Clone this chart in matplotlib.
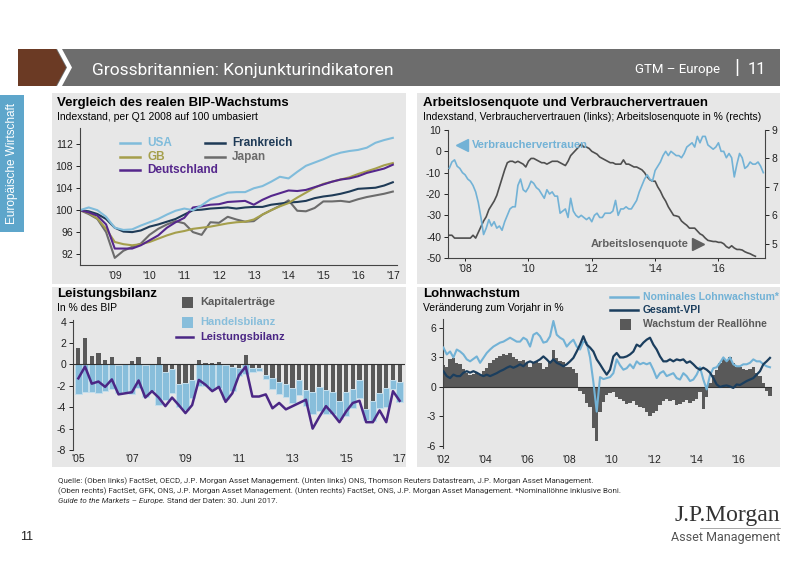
import numpy as np
import matplotlib
matplotlib.use("Agg")
import matplotlib.pyplot as plt
from matplotlib.patches import Rectangle, Polygon
from matplotlib.lines import Line2D

plt.rcParams['font.family'] = ['Liberation Sans', 'DejaVu Sans']
plt.rcParams['axes.unicode_minus'] = False
NARROW = ['Liberation Sans Narrow', 'Roboto', 'DejaVu Sans']

# ---------------- data ----------------
# BIP, quartalsweise Q1 2008 .. Q1 2017 (Q1 2008 = 100)
usa = [100.0, 100.5, 100.0, 98.8, 96.8, 96.4, 96.5, 97.2, 97.8, 98.4,
       99.2, 99.9, 100.3, 100.0, 100.9, 102.0, 102.6, 103.2, 103.3, 103.3,
       104.0, 104.4, 105.2, 106.1, 105.8, 107.0, 108.1, 108.7, 109.3, 110.0,
       110.5, 110.8, 111.0, 111.4, 112.3, 112.8, 113.2]
gb = [100.0, 99.5, 98.5, 96.6, 94.2, 93.8, 93.6, 93.8, 94.2, 94.8,
      95.4, 95.9, 96.2, 96.6, 96.8, 97.0, 97.3, 97.6, 97.8, 97.9,
      98.3, 99.2, 100.0, 100.7, 101.3, 102.3, 103.2, 104.1, 104.8, 105.2,
      105.6, 106.0, 106.6, 107.1, 107.6, 108.2, 108.6]
deutschland = [100.0, 99.6, 99.0, 97.4, 93.0, 93.0, 93.0, 93.6, 94.5, 95.4,
               96.8, 97.8, 98.6, 100.5, 100.7, 101.0, 101.1, 101.5, 101.6, 101.7,
               101.0, 101.9, 102.6, 103.1, 103.6, 103.5, 103.7, 104.2, 104.7, 105.2,
               105.6, 105.8, 106.2, 106.8, 107.2, 107.6, 108.3]
frankreich = [100.0, 99.8, 99.3, 98.4, 96.8, 96.1, 96.0, 96.3, 97.0, 97.4,
              97.9, 98.4, 99.2, 100.0, 100.1, 100.3, 100.4, 100.5, 100.3, 100.5,
              100.6, 100.6, 101.0, 101.2, 101.4, 101.5, 101.7, 102.2, 102.5, 102.7,
              103.0, 103.4, 103.9, 104.0, 104.1, 104.5, 105.1]
japan = [100.0, 99.3, 98.4, 96.0, 91.3, 92.6, 93.3, 93.9, 95.5, 96.6,
         97.4, 98.0, 97.6, 96.0, 95.5, 97.8, 97.7, 98.8, 98.3, 97.9,
         98.0, 99.2, 100.0, 100.8, 101.8, 99.9, 99.8, 100.4, 101.6, 101.6,
         101.7, 101.5, 102.0, 102.4, 102.7, 103.0, 103.4]

# Verbrauchervertrauen (monatlich ab Juli 2007), Arbeitslosenquote in %
verbrauchervertrauen = [
    -8, -5, -4, -7, -8, -10,
    -11, -13, -14, -16, -19, -24, -31, -39, -36, -32, -35, -33,
    -36, -35, -37, -33, -30, -27, -26, -26, -16, -13, -18, -19,
    -17, -14, -15, -17, -18, -20, -22, -18, -20, -19, -21, -21,
    -29, -28, -27, -31, -22, -28, -30, -31, -30, -31, -32, -31,
    -33, -30, -29, -31, -31, -29, -29, -29, -28, -23, -30, -27,
    -27, -26, -27, -27, -25, -23, -19, -16, -13, -11, -13, -14,
    -9, -7, -5, -2, 0, -2, 0, -1, -2, -2, -3, -1,
    2, 3, 4, 2, 7, 4, 7, 7, 3, 2, 1, 2,
    4, 0, 0, -3, -1, -3, -12, -6, -1, -3, -8, -7,
    -5, -6, -6, -5, -7, -10]
arbeitslosenquote = [
    5.3, 5.3, 5.2, 5.2, 5.2, 5.2,
    5.2, 5.2, 5.2, 5.3, 5.2, 5.4, 5.6, 5.8, 5.95, 6.2, 6.35, 6.5,
    6.7, 7.0, 7.3, 7.6, 7.85, 7.9, 7.9, 7.85, 7.9, 7.85, 7.8, 7.7,
    7.9, 8.0, 8.0, 7.95, 7.9, 7.85, 7.85, 7.8, 7.85, 7.9, 7.9, 7.9,
    7.85, 7.8, 7.75, 7.9, 8.1, 8.2, 8.3, 8.4, 8.5, 8.4, 8.4, 8.35,
    8.25, 8.2, 8.15, 8.05, 8.0, 7.95, 7.9, 7.85, 7.85, 7.8, 7.8, 7.8,
    7.95, 7.8, 7.8, 7.75, 7.7, 7.7, 7.65, 7.6, 7.5, 7.35, 7.25, 7.2,
    7.2, 7.0, 6.85, 6.65, 6.5, 6.3, 6.15, 6.0, 5.98, 5.95, 5.8, 5.72,
    5.65, 5.55, 5.55, 5.55, 5.45, 5.35, 5.3, 5.2, 5.12, 5.1, 5.08, 5.08,
    5.05, 5.05, 5.0, 4.9, 4.85, 4.93, 4.85, 4.8, 4.8, 4.78, 4.72, 4.68,
    4.65, 4.6, 4.56]

# Leistungsbilanz, quartalsweise Q1 2005 .. Q1 2017, in % des BIP
kapitalertraege = [1.5, 2.45, 0.75, 1.05, 0.45, 0.65, -0.1, 0.0, 0.3, 0.65,
                   -0.1, 0.0, 0.65, -0.7, -0.4, -1.8, -1.75, -1.45, 0.45, 0.1,
                   0.15, 0.25, -0.1, -0.2, -0.3, 0.85, -0.3, -0.3, -1.0, -1.3,
                   -1.6, -1.8, -2.2, -1.5, -2.4, -2.6, -2.1, -2.4, -2.6, -3.4,
                   -2.6, -2.3, -1.5, -4.2, -3.4, -2.7, -2.2, -1.5, -1.6]
handelsbilanz = [-2.75, -2.6, -2.6, -2.7, -2.5, -2.3, -2.6, -2.6, -2.8, -2.2,
                 -2.9, -2.5, -3.8, -2.6, -2.3, -2.2, -2.5, -1.7, -2.0, -2.0,
                 -2.4, -2.2, -3.1, -2.3, -0.8, -0.9, -0.4, -0.3, -0.4, -1.0,
                 -1.2, -1.2, -1.4, -1.4, -1.5, -2.0, -2.3, -2.2, -2.0, -1.7,
                 -2.2, -1.8, -1.6, -1.0, -1.9, -1.4, -1.8, -0.8, -1.9]
leistungsbilanz = [-1.3, -0.2, -1.8, -1.6, -2.1, -1.4, -2.8, -2.7, -2.6, -1.5,
                   -3.1, -2.5, -3.1, -3.9, -3.1, -3.8, -4.55, -3.8, -1.45, -1.9,
                   -2.5, -2.1, -3.5, -2.7, -1.0, -0.2, -3.0, -3.0, -2.8, -4.1,
                   -3.6, -4.2, -3.9, -3.6, -3.3, -6.0, -4.9, -3.9, -4.6, -5.4,
                   -4.4, -3.6, -3.4, -5.4, -5.4, -4.3, -5.4, -2.5, -3.4]

# Lohnwachstum ab 2002 (ca. alle 2 Monate), Veraenderung zum Vorjahr in %
nominallohn = [4.0, 3.3, 3.6, 3.0, 3.8, 3.6, 3.3, 2.8, 2.6, 2.85,
               3.1, 2.45, 2.95, 3.45, 3.8, 4.1, 4.3, 4.5, 4.6, 4.8,
               5.0, 4.8, 4.6, 4.6, 5.0, 4.8, 4.1, 5.3, 5.5, 5.15,
               4.5, 4.6, 5.15, 6.7, 5.3, 5.0, 4.8, 4.1, 4.5, 4.8,
               4.1, 3.8, 4.6, 4.5, 3.0, 0.5, -2.5, 1.0, 0.8, 0.9,
               1.0, 1.4, 2.8, 2.2, 1.75, 1.9, 2.3, 1.9, 2.6, 2.3,
               2.45, 2.3, 2.45, 1.75, 0.9, 1.4, 1.6, 1.1, 1.25, 1.4,
               0.9, 0.75, 1.4, 1.1, 0.6, 0.75, 1.25, 2.0, 0.75, -0.25,
               1.2, 1.9, 2.0, 2.45, 3.0, 2.6, 3.0, 2.3, 2.1, 2.1,
               2.3, 2.3, 2.45, 2.8, 2.6, 2.6, 2.3, 2.1, 2.0]
vpi = [1.6, 1.1, 0.9, 1.25, 1.1, 1.1, 1.45, 1.6, 1.45, 1.6,
       1.45, 1.25, 1.1, 1.25, 1.1, 1.25, 1.4, 1.6, 1.75, 1.95,
       2.1, 1.95, 2.1, 2.3, 2.1, 2.45, 2.6, 2.45, 2.6, 2.8,
       3.1, 2.8, 2.45, 2.8, 2.45, 2.3, 2.1, 2.3, 2.6, 2.95,
       3.6, 4.3, 5.15, 4.3, 4.0, 3.6, 2.8, 2.3, 1.75, 1.25,
       1.75, 3.1, 3.45, 3.0, 3.0, 3.1, 3.3, 3.6, 4.3, 4.1,
       4.5, 4.8, 5.0, 4.3, 3.8, 3.1, 2.6, 2.6, 2.8, 2.6,
       2.8, 2.7, 2.8, 2.45, 2.6, 2.3, 1.95, 1.75, 1.95, 1.75,
       1.45, 0.9, 0.25, 0.0, 0.1, 0.15, 0.05, -0.1, 0.25, 0.2,
       0.4, 0.6, 0.75, 0.9, 1.25, 1.6, 2.3, 2.6, 2.95]
reallohn = [2.2, 2.0, 2.8, 2.9, 2.4, 2.3, 1.8, 1.4, 1.2, 1.3,
            1.5, 1.2, 1.6, 1.9, 2.4, 2.7, 2.9, 3.1, 3.3, 3.2,
            3.4, 3.0, 2.8, 2.6, 2.7, 2.4, 2.0, 2.4, 2.6, 2.4,
            1.8, 2.0, 2.6, 3.8, 2.9, 2.6, 2.5, 2.0, 2.0, 1.8,
            1.4, -0.4, -0.7, -1.6, -2.0, -4.2, -5.5, -2.5, -1.5, -0.8,
            -0.6, -0.5, -1.0, -1.2, -1.4, -1.7, -1.6, -1.4, -1.8, -2.0,
            -2.1, -2.5, -3.0, -2.6, -2.4, -1.8, -1.4, -1.2, -1.4, -1.3,
            -1.8, -1.7, -1.5, -1.3, -1.6, -1.4, -1.2, -0.5, -2.2, -1.0,
            0.4, 1.2, 1.7, 2.4, 2.9, 2.6, 3.0, 2.4, 2.0, 2.0,
            1.8, 1.7, 1.8, 2.0, 1.4, 1.1, 0.4, -0.4, -0.9]

# ---------------- colours ----------------
C_USA = '#80bcdb'
C_GB = '#a59f4c'
C_DE = '#55278c'
C_FR = '#1f3b57'
C_JP = '#6c6c6c'
C_LBLUE = '#72b2d6'
C_GRAY = '#595959'
C_PURPLE = '#4b2785'
C_NAVY = '#1b3e5e'
C_BAR_BLUE = '#88bedb'
PANEL_BG = '#e7e7e7'
AX_COL = '#444444'

W, H = 800, 565


def box(l, t, r, b):
    return [l / W, 1 - b / H, (r - l) / W, (b - t) / H]


def rect(fig, l, t, r, b, color):
    fig.add_artist(Rectangle((l / W, 1 - b / H), (r - l) / W, (b - t) / H,
                             transform=fig.transFigure, color=color, lw=0, zorder=-5))


def ftext(fig, x, y, s, **kw):
    return fig.text(x / W, 1 - y / H, s, **kw)


def style_axes(ax, left=True, bottom=True, right=False):
    ax.set_facecolor('none')
    for side, vis in (('left', left), ('bottom', bottom), ('right', right), ('top', False)):
        ax.spines[side].set_visible(vis)
        ax.spines[side].set_color(AX_COL)
        ax.spines[side].set_linewidth(0.8)
    ax.tick_params(labelsize=7.5, colors='#222222', length=3, width=0.7, pad=2)


fig = plt.figure(figsize=(8, 5.65), dpi=100)

# ---------------- header ----------------
rect(fig, 18, 49, 780, 86, '#6d6d6d')
fig.add_artist(Polygon([(18 / W, 1 - 49 / H), (56 / W, 1 - 49 / H), (66 / W, 1 - 67.5 / H),
                        (56 / W, 1 - 86 / H), (18 / W, 1 - 86 / H)],
                       closed=True, transform=fig.transFigure, color='#6b3a24', lw=0, zorder=-4))
fig.add_artist(Polygon([(57 / W, 1 - 49 / H), (62 / W, 1 - 49 / H), (72 / W, 1 - 67.5 / H),
                        (62 / W, 1 - 86 / H), (57 / W, 1 - 86 / H), (67 / W, 1 - 67.5 / H)],
                       closed=True, transform=fig.transFigure, color='white', lw=0, zorder=-4))
ftext(fig, 92, 70, 'Grossbritannien: Konjunkturindikatoren', color='white', fontsize=12.5,
      family=NARROW, va='center', ha='left')
ftext(fig, 720, 69, 'GTM – Europe', color='white', fontsize=9.5, family=NARROW, va='center', ha='right')
ftext(fig, 737, 68, '|', color='white', fontsize=15, family=NARROW, va='center', ha='center')
ftext(fig, 757, 69, '11', color='white', fontsize=12, family=NARROW, va='center', ha='center')

# left tab
rect(fig, 0, 95, 24, 232, '#5ea6cb')
ftext(fig, 12, 163, 'Europäische Wirtschaft', color='white', fontsize=8.5, rotation=90,
      va='center', ha='center')

# panel backgrounds
rect(fig, 52, 93, 406, 284, PANEL_BG)
rect(fig, 417, 93, 780, 284, PANEL_BG)
rect(fig, 52, 287, 406, 467, PANEL_BG)
rect(fig, 417, 287, 780, 467, PANEL_BG)

# panel titles
ftext(fig, 57, 103, 'Vergleich des realen BIP-Wachstums', fontsize=9.5, weight='bold', va='center')
ftext(fig, 57, 117, 'Indexstand, per Q1 2008 auf 100 umbasiert', fontsize=7.5, va='center')
ftext(fig, 423, 103, 'Arbeitslosenquote und Verbrauchervertrauen', fontsize=9.5, weight='bold', va='center')
ftext(fig, 423, 117, 'Indexstand, Verbrauchervertrauen (links); Arbeitslosenquote in % (rechts)',
      fontsize=7.5, va='center')
ftext(fig, 57, 294, 'Leistungsbilanz', fontsize=9.5, weight='bold', va='center')
ftext(fig, 57, 308, 'In % des BIP', fontsize=7.5, va='center')
ftext(fig, 423, 294, 'Lohnwachstum', fontsize=9.5, weight='bold', va='center')
ftext(fig, 423, 308, 'Veränderung zum Vorjahr in %', fontsize=7.5, va='center')

# ---------------- panel 1: BIP ----------------
ax1 = fig.add_axes(box(80, 128, 397, 265))
style_axes(ax1)
t1 = 2008 + np.arange(len(usa)) / 4
for vals, col, name in ((japan, C_JP, 'Japan'), (frankreich, C_FR, 'Frankreich'),
                        (gb, C_GB, 'GB'), (deutschland, C_DE, 'Deutschland'), (usa, C_USA, 'USA')):
    ax1.plot(t1, vals, color=col, lw=1.5, label=name)
ax1.set_xlim(2008, 2017.12)
ax1.set_ylim(90, 115)
ax1.set_yticks([92, 96, 100, 104, 108, 112])
yrs1 = list(range(2009, 2018))
ax1.set_xticks(yrs1)
ax1.set_xticklabels(["'" + str(y)[2:] for y in yrs1])
ax1.tick_params(axis='x', length=0, pad=4)

leg1 = [('USA', C_USA, 120, 143), ('GB', C_GB, 120, 157), ('Deutschland', C_DE, 120, 170),
        ('Frankreich', C_FR, 205, 143), ('Japan', C_JP, 205, 157)]
for name, col, x0, y0 in leg1:
    fig.add_artist(Line2D([x0 / W, (x0 + 20) / W], [1 - y0 / H, 1 - y0 / H], color=col, lw=1.8,
                          transform=fig.transFigure))
    ftext(fig, x0 + 27, y0, name, color=col, fontsize=8.5, weight='bold', va='center')

# ---------------- panel 2: Arbeitslosigkeit / Vertrauen ----------------
ax2 = fig.add_axes(box(448, 130, 765, 258))
style_axes(ax2)
ax2r = ax2.twinx()
style_axes(ax2r, left=False, bottom=False, right=True)
t2a = 2007.5 + np.arange(len(verbrauchervertrauen)) / 12
t2b = 2007.5 + np.arange(len(arbeitslosenquote)) / 12
ax2.plot(t2a, verbrauchervertrauen, color=C_LBLUE, lw=1.2, zorder=3)
ax2r.plot(t2b, arbeitslosenquote, color='#4f4f4f', lw=1.2)
ax2.set_zorder(ax2r.get_zorder() + 1)
ax2.set_xlim(2007.46, 2017.47)
ax2.set_ylim(-50, 10)
ax2.set_yticks(range(-50, 11, 10))
ax2r.set_ylim(4.5, 9)
ax2r.set_yticks([5, 6, 7, 8, 9])
yrs2 = [2008, 2010, 2012, 2014, 2016]
ax2.set_xticks(yrs2)
ax2.set_xticklabels(["'" + str(y)[2:] for y in yrs2])
ax2.tick_params(axis='x', length=2.5)
ax2.plot([0.045], [0.88], marker='<', ms=8, color=C_LBLUE, transform=ax2.transAxes, clip_on=False)
ax2.text(0.075, 0.88, 'Verbrauchervertrauen', color=C_LBLUE, fontsize=8, weight='bold',
         va='center', transform=ax2.transAxes)
ax2.text(0.76, 0.11, 'Arbeitslosenquote', color='#606060', fontsize=8, weight='bold',
         va='center', ha='right', transform=ax2.transAxes)
ax2.plot([0.79], [0.11], marker='>', ms=8, color='#606060', transform=ax2.transAxes, clip_on=False)

# ---------------- panel 3: Leistungsbilanz ----------------
ax3 = fig.add_axes(box(73, 319.5, 405, 450))
style_axes(ax3, bottom=False)
t3 = 2005 + np.arange(len(kapitalertraege)) / 4
kap = np.array(kapitalertraege)
ax3.bar(t3, handelsbilanz, bottom=np.minimum(kap, 0), width=0.24, color=C_BAR_BLUE,
        edgecolor='#c4deec', linewidth=0.7, zorder=2)
ax3.bar(t3, kap, width=0.16, color=C_GRAY, zorder=2)
ax3.axhline(0, color='#333333', lw=0.8, zorder=3)
ax3.plot(t3, leistungsbilanz, color=C_PURPLE, lw=1.8, zorder=4)
ax3.set_xlim(2004.8, 2017.2)
ax3.set_ylim(-8, 4.2)
ax3.set_yticks(range(-8, 5, 2))
yrs3 = list(range(2005, 2018, 2))
ax3.set_xticks(yrs3)
ax3.set_xticklabels(["'" + str(y)[2:] for y in yrs3])
ax3.tick_params(axis='x', length=0, pad=3)

fig.add_artist(Rectangle((182 / W, 1 - 308 / H), 11 / W, 11 / H, transform=fig.transFigure,
                         color=C_GRAY, lw=0))
ftext(fig, 200, 302, 'Kapitalerträge', color='#5a5a5a', fontsize=8, weight='bold', va='center')
fig.add_artist(Rectangle((182 / W, 1 - 328 / H), 11 / W, 11 / H, transform=fig.transFigure,
                         color=C_BAR_BLUE, lw=0))
ftext(fig, 200, 322, 'Handelsbilanz', color=C_BAR_BLUE, fontsize=8, weight='bold', va='center')
fig.add_artist(Line2D([176 / W, 193 / W], [1 - 337 / H, 1 - 337 / H], color=C_PURPLE, lw=1.8,
                      transform=fig.transFigure))
ftext(fig, 200, 337, 'Leistungsbilanz', color=C_PURPLE, fontsize=8, weight='bold', va='center')

# ---------------- panel 4: Lohnwachstum ----------------
ax4 = fig.add_axes(box(443, 319, 772, 448))
style_axes(ax4, bottom=False)
t4 = 2002.02 + np.arange(len(nominallohn)) * 0.158
ax4.bar(t4, reallohn, width=0.158, color=C_GRAY, lw=0, zorder=2)
ax4.axhline(0, color='#333333', lw=0.8, zorder=3)
ax4.plot(t4, nominallohn, color=C_LBLUE, lw=1.5, zorder=4)
ax4.plot(t4, vpi, color=C_NAVY, lw=1.6, zorder=5)
ax4.set_xlim(2002, 2017.6)
ax4.set_ylim(-6.2, 6.9)
ax4.set_yticks([-6, -3, 0, 3, 6])
yrs4 = list(range(2002, 2017, 2))
ax4.set_xticks(yrs4)
ax4.set_xticklabels(["'" + str(y)[2:] for y in yrs4])
ax4.tick_params(axis='x', length=0, pad=5)

fig.add_artist(Line2D([610 / W, 638 / W], [1 - 297 / H, 1 - 297 / H], color=C_LBLUE, lw=1.8,
                      transform=fig.transFigure))
ftext(fig, 643, 297, 'Nominales Lohnwachstum*', color=C_LBLUE, fontsize=7.5, weight='bold', va='center')
fig.add_artist(Line2D([610 / W, 638 / W], [1 - 310 / H, 1 - 310 / H], color=C_NAVY, lw=1.8,
                      transform=fig.transFigure))
ftext(fig, 643, 310, 'Gesamt-VPI', color=C_NAVY, fontsize=7.5, weight='bold', va='center')
fig.add_artist(Rectangle((620 / W, 1 - 330 / H), 11 / W, 11 / H, transform=fig.transFigure,
                         color=C_GRAY, lw=0))
ftext(fig, 643, 324, 'Wachstum der Reallöhne', color='#5a5a5a', fontsize=7.5, weight='bold', va='center')

# ---------------- footer ----------------
src1 = ('Quelle: (Oben links) FactSet, OECD, J.P. Morgan Asset Management. (Unten links) ONS, '
        'Thomson Reuters Datastream, J.P. Morgan Asset Management.')
src2 = ('(Oben rechts) FactSet, GFK, ONS, J.P. Morgan Asset Management. (Unten rechts) FactSet, ONS, '
        'J.P. Morgan Asset Management. *Nominallöhne inklusive Boni.')
ftext(fig, 58, 481, src1, fontsize=5.8, family=NARROW, va='center', color='#333333')
ftext(fig, 58, 491, src2, fontsize=5.8, family=NARROW, va='center', color='#333333')
t_it = ftext(fig, 58, 501, 'Guide to the Markets – Europe.', fontsize=5.8, family=NARROW,
             style='italic', va='center', color='#333333')
ax1.annotate(' Stand der Daten: 30. Juni 2017.', xy=(1, 0.5), xycoords=t_it, va='center',
             fontsize=5.8, family=NARROW, color='#333333', annotation_clip=False)

ftext(fig, 20, 537, '11', fontsize=9, va='center', color='#222222')
ftext(fig, 780, 516, 'J.P.Morgan', family=['Liberation Serif', 'DejaVu Serif'], fontsize=17,
      ha='right', va='center', color='#333333')
fig.add_artist(Line2D([700 / W, 780 / W], [1 - 528 / H, 1 - 528 / H], color='#999999', lw=0.6,
                      transform=fig.transFigure))
ftext(fig, 780, 538, 'Asset Management', family=NARROW, fontsize=9, ha='right', va='center',
      color='#555555')

fig.savefig('out.png', dpi=100)
